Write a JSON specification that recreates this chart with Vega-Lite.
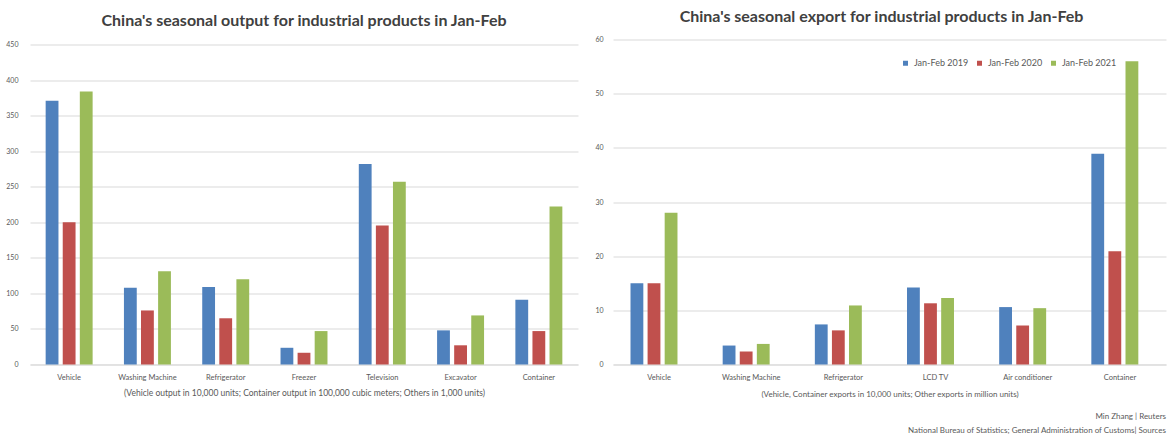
{
  "$schema": "https://vega.github.io/schema/vega-lite/v6.json",
  "background": "white",
  "padding": {"left": 5, "top": 8.5, "right": 2, "bottom": 4},
  "spacing": 35,
  "bounds": "flush",
  "config": {
    "font": "Lato",
    "view": {"stroke": null},
    "axis": {"domain": false, "ticks": false, "gridColor": "#D9D9D9", "gridWidth": 1, "labelColor": "#595959", "labelFont": "Lato", "titleFont": "Lato", "titleFontWeight": "normal", "titleColor": "#595959"},
    "axisX": {"grid": false, "domain": true, "domainColor": "#D9D9D9", "labelAngle": 0, "labelFontSize": 7.5, "labelPadding": 9, "titleFontSize": 8.5, "titlePadding": 7},
    "axisY": {"labelFontSize": 7, "labelPadding": 12}
  },
  "resolve": {"scale": {"color": "independent"}, "legend": {"color": "independent"}},
  "title": {
    "text": ["Min Zhang | Reuters", "National Bureau of Statistics; General Administration of Customs| Sources"],
    "orient": "bottom", "anchor": "end", "fontSize": 8, "fontWeight": "normal", "color": "#595959", "offset": 15, "lineHeight": 14, "font": "Lato"
  },
  "hconcat": [
    {
      "width": 548,
      "height": 325,
      "title": {"text": "China's seasonal output for industrial products in Jan-Feb", "fontSize": 16, "fontWeight": "bold", "color": "#404040", "offset": 11, "font": "Lato"},
      "data": {"values": [
        {"product": "Vehicle", "period": "Jan-Feb 2019", "value": 371},
        {"product": "Vehicle", "period": "Jan-Feb 2020", "value": 200},
        {"product": "Vehicle", "period": "Jan-Feb 2021", "value": 384},
        {"product": "Washing Machine", "period": "Jan-Feb 2019", "value": 108},
        {"product": "Washing Machine", "period": "Jan-Feb 2020", "value": 76},
        {"product": "Washing Machine", "period": "Jan-Feb 2021", "value": 131},
        {"product": "Refrigerator", "period": "Jan-Feb 2019", "value": 109},
        {"product": "Refrigerator", "period": "Jan-Feb 2020", "value": 65},
        {"product": "Refrigerator", "period": "Jan-Feb 2021", "value": 120},
        {"product": "Freezer", "period": "Jan-Feb 2019", "value": 23.5},
        {"product": "Freezer", "period": "Jan-Feb 2020", "value": 16.5},
        {"product": "Freezer", "period": "Jan-Feb 2021", "value": 47},
        {"product": "Television", "period": "Jan-Feb 2019", "value": 282},
        {"product": "Television", "period": "Jan-Feb 2020", "value": 195.5},
        {"product": "Television", "period": "Jan-Feb 2021", "value": 257},
        {"product": "Excavator", "period": "Jan-Feb 2019", "value": 48},
        {"product": "Excavator", "period": "Jan-Feb 2020", "value": 27},
        {"product": "Excavator", "period": "Jan-Feb 2021", "value": 69},
        {"product": "Container", "period": "Jan-Feb 2019", "value": 91},
        {"product": "Container", "period": "Jan-Feb 2020", "value": 47},
        {"product": "Container", "period": "Jan-Feb 2021", "value": 222}
      ]},
      "mark": {"type": "bar"},
      "encoding": {
        "x": {"field": "product", "type": "nominal", "sort": null, "scale": {"paddingInner": 0.4, "paddingOuter": 0.2},
              "axis": {"title": "(Vehicle output in 10,000 units; Container output in 100,000 cubic meters; Others in 1,000 units)"}},
        "xOffset": {"field": "period", "type": "nominal", "scale": {"paddingInner": 0.25}},
        "y": {"field": "value", "type": "quantitative", "scale": {"domain": [0, 457], "nice": false},
              "axis": {"title": null, "values": [0, 50, 100, 150, 200, 250, 300, 350, 400, 450]}},
        "color": {"field": "period", "type": "nominal",
                  "scale": {"domain": ["Jan-Feb 2019", "Jan-Feb 2020", "Jan-Feb 2021"], "range": ["#4F81BD", "#C0504D", "#9BBB59"]},
                  "legend": null}
      }
    },
    {
      "width": 553,
      "height": 325,
      "title": {"text": "China's seasonal export for industrial products in Jan-Feb", "fontSize": 16, "fontWeight": "bold", "color": "#404040", "offset": 10.5, "dx": -8, "font": "Lato"},
      "data": {"values": [
        {"product": "Vehicle", "period": "Jan-Feb 2019", "value": 15},
        {"product": "Vehicle", "period": "Jan-Feb 2020", "value": 15},
        {"product": "Vehicle", "period": "Jan-Feb 2021", "value": 28},
        {"product": "Washing Machine", "period": "Jan-Feb 2019", "value": 3.5},
        {"product": "Washing Machine", "period": "Jan-Feb 2020", "value": 2.4},
        {"product": "Washing Machine", "period": "Jan-Feb 2021", "value": 3.8},
        {"product": "Refrigerator", "period": "Jan-Feb 2019", "value": 7.4},
        {"product": "Refrigerator", "period": "Jan-Feb 2020", "value": 6.3},
        {"product": "Refrigerator", "period": "Jan-Feb 2021", "value": 10.9},
        {"product": "LCD TV", "period": "Jan-Feb 2019", "value": 14.2},
        {"product": "LCD TV", "period": "Jan-Feb 2020", "value": 11.3},
        {"product": "LCD TV", "period": "Jan-Feb 2021", "value": 12.3},
        {"product": "Air conditioner", "period": "Jan-Feb 2019", "value": 10.6},
        {"product": "Air conditioner", "period": "Jan-Feb 2020", "value": 7.2},
        {"product": "Air conditioner", "period": "Jan-Feb 2021", "value": 10.4},
        {"product": "Container", "period": "Jan-Feb 2019", "value": 38.9},
        {"product": "Container", "period": "Jan-Feb 2020", "value": 20.9},
        {"product": "Container", "period": "Jan-Feb 2021", "value": 56}
      ]},
      "mark": {"type": "bar"},
      "encoding": {
        "x": {"field": "product", "type": "nominal", "sort": null, "scale": {"paddingInner": 0.38, "paddingOuter": 0.19},
              "axis": {"title": "(Vehicle, Container exports in 10,000 units; Other exports in million units)", "titleFontSize": 8, "titlePadding": 9}},
        "xOffset": {"field": "period", "type": "nominal", "scale": {"paddingInner": 0.2}},
        "y": {"field": "value", "type": "quantitative", "scale": {"domain": [0, 60], "nice": false},
              "axis": {"title": null, "values": [0, 10, 20, 30, 40, 50, 60], "labelPadding": 10}},
        "color": {"field": "period", "type": "nominal",
                  "scale": {"domain": ["Jan-Feb 2019", "Jan-Feb 2020", "Jan-Feb 2021"], "range": ["#4F81BD", "#C0504D", "#9BBB59"]},
                  "legend": {"orient": "none", "legendX": 288, "legendY": 19, "direction": "horizontal", "title": null,
                             "symbolType": "square", "symbolSize": 25, "labelFontSize": 9, "labelColor": "#595959",
                             "labelFont": "Lato", "columnPadding": 6, "symbolOffset": 0}}
      }
    }
  ]
}
